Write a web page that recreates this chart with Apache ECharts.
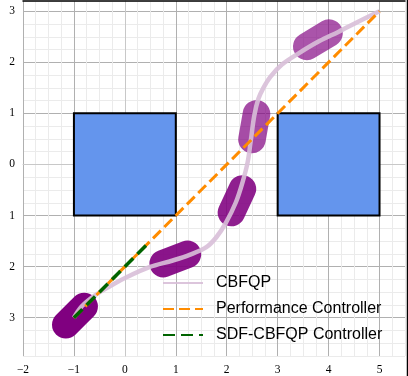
<!DOCTYPE html>
<html>
<head>
<meta charset="utf-8">
<script src="https://cdn.jsdelivr.net/npm/echarts@6/dist/echarts.min.js"></script>
<style>html,body{margin:0;padding:0;background:#fff;}#c{width:408px;height:376px;}</style>
</head>
<body>
<div id="c"></div>
<script>
// ---- data ----
const xTickValues = [-2, -1, 0, 1, 2, 3, 4, 5];
const xTickLabels = ['\u22122', '\u22121', '0', '1', '2', '3', '4', '5'];
const yTickValues = [-3, -2, -1, 0, 1, 2, 3];
const yTickLabels = ['3', '2', '1', '0', '1', '2', '3'];

// obstacles: [xmin, ymin, xmax, ymax]
const obstacleXMin = [-1, 3];
const obstacleYMin = [-1, -1];
const obstacleXMax = [1, 5];
const obstacleYMax = [1, 1];

// CBFQP trajectory
const cbfqpX = [-1, -0.85, -0.6, -0.3, 0.05, 0.48, 0.94, 1.27, 1.6, 1.8, 1.98, 2.18, 2.31, 2.41, 2.47, 2.54, 2.62, 2.72, 2.86, 3.09, 3.42, 3.81, 4.2, 4.59, 5];
const cbfqpY = [-3, -2.78, -2.57, -2.39, -2.2, -2.01, -1.88, -1.77, -1.62, -1.42, -1.15, -0.74, -0.35, 0.04, 0.45, 0.95, 1.28, 1.5, 1.72, 1.96, 2.18, 2.41, 2.6, 2.8, 3];

// Performance controller (straight line)
const perfX = [-1, 5];
const perfY = [-3, 3];

// SDF-CBFQP controller
const sdfX = [-1, 0.43];
const sdfY = [-3, -1.57];

// robot footprints (capsules): center, heading (deg)
const robotX = [-0.98, 0.99, 2.2, 2.54, 3.79];
const robotY = [-2.96, -1.85, -0.71, 0.74, 2.44];
const robotHeading = [45, 21, 65, 80, 31];
const robotAlpha = [1, 0.92, 0.88, 0.7, 0.67];

// ---- sizes / styles ----
const ROBOT_LEN = 1.05;
const ROBOT_WID = 0.54;

function zip(a, b) { return a.map((v, i) => [v, b[i]]); }
function lookupLabel(values, labels, v) {
  for (let i = 0; i < values.length; i++) if (Math.abs(values[i] - v) < 1e-6) return labels[i];
  return '';
}

const chart = echarts.init(document.getElementById('c'), null, {renderer: 'canvas'});
const minorC = '#ebebeb', majorC = '#b0b0b0';

const option = {
  animation: false,
  backgroundColor: '#fff',
  grid: {left: 23, right: 2, top: 1, bottom: 18.5, containLabel: false},
  xAxis: [{
    type: 'value', min: -2, max: 5.5, interval: 0.25,
    axisLine: {show: true, lineStyle: {color: '#c8c8c8', width: 1}},
    axisTick: {show: false},
    splitLine: {show: true, lineStyle: {color: [majorC, minorC, minorC, minorC], width: 1}},
    axisLabel: {
      margin: 8, color: '#000', fontFamily: 'Liberation Serif', fontSize: 11.5,
      formatter: v => lookupLabel(xTickValues, xTickLabels, v)
    }
  }, {
    type: 'value', min: -2, max: 5.5, position: 'top',
    axisLine: {show: true, lineStyle: {color: '#000', width: 1.5}},
    axisTick: {show: false}, axisLabel: {show: false}, splitLine: {show: false}
  }],
  yAxis: [{
    type: 'value', min: -3.75, max: 3.2, interval: 0.25,
    axisLine: {show: true, lineStyle: {color: '#c8c8c8', width: 1}},
    axisTick: {show: false},
    splitLine: {show: true, lineStyle: {color: [minorC, minorC, minorC, majorC], width: 1}},
    axisLabel: {
      margin: 8, color: '#000', fontFamily: 'Liberation Serif', fontSize: 11.5,
      formatter: v => lookupLabel(yTickValues, yTickLabels, v)
    }
  }],
  legend: {
    orient: 'vertical', left: 162, top: 273, padding: 0,
    itemWidth: 40, itemHeight: 20, itemGap: 6,
    itemStyle: {opacity: 0},
    data: ['CBFQP', 'Performance Controller', 'SDF-CBFQP Controller'],
    textStyle: {fontFamily: 'Liberation Sans', fontSize: 16, color: '#000', lineHeight: 20, padding: [0, 0, 0, 8]}
  },
  graphic: [{
    type: 'line', shape: {x1: 407.5, y1: 0, x2: 407.5, y2: 376},
    style: {stroke: '#000', lineWidth: 1.5}, z: 100
  }],
  series: [
    {
      type: 'custom', name: 'obstacles', z: 2,
      data: obstacleXMin.map((v, i) => [v, obstacleYMin[i], obstacleXMax[i], obstacleYMax[i]]),
      renderItem: (params, api) => {
        const p0 = api.coord([api.value(0), api.value(3)]);
        const p1 = api.coord([api.value(2), api.value(1)]);
        return {
          type: 'rect',
          shape: {x: p0[0], y: p0[1], width: p1[0] - p0[0], height: p1[1] - p0[1]},
          style: {fill: '#6495ED', stroke: '#000', lineWidth: 2}
        };
      }
    },
    {
      type: 'custom', name: 'robots', z: 3,
      data: robotX.map((v, i) => [v, robotY[i], robotHeading[i], robotAlpha[i]]),
      renderItem: (params, api) => {
        const c = api.coord([api.value(0), api.value(1)]);
        const L = api.size([ROBOT_LEN, 0])[0];
        const W = api.size([0, ROBOT_WID])[1];
        return {
          type: 'rect', x: c[0], y: c[1], rotation: api.value(2) * Math.PI / 180,
          shape: {x: -L / 2, y: -W / 2, width: L, height: W, r: W / 2},
          style: {fill: '#800080', opacity: api.value(3)}
        };
      }
    },
    {
      type: 'line', name: 'CBFQP', z: 4, data: zip(cbfqpX, cbfqpY),
      symbol: 'none', showSymbol: false, smooth: 0.35,
      lineStyle: {color: '#D8BFD8', width: 4.5, opacity: 0.9},
      itemStyle: {color: '#D8BFD8'}
    },
    {
      type: 'line', name: 'Performance Controller', z: 5, data: zip(perfX, perfY),
      symbol: 'none', showSymbol: false,
      lineStyle: {color: '#FF8C00', width: 3, type: [11, 5]},
      itemStyle: {color: '#FF8C00'}
    },
    {
      type: 'line', name: 'SDF-CBFQP Controller', z: 6, data: zip(sdfX, sdfY),
      symbol: 'none', showSymbol: false,
      lineStyle: {color: '#006400', width: 3.5, type: [12, 6]},
      itemStyle: {color: '#006400'}
    }
  ]
};
chart.setOption(option);
</script>
</body>
</html>
